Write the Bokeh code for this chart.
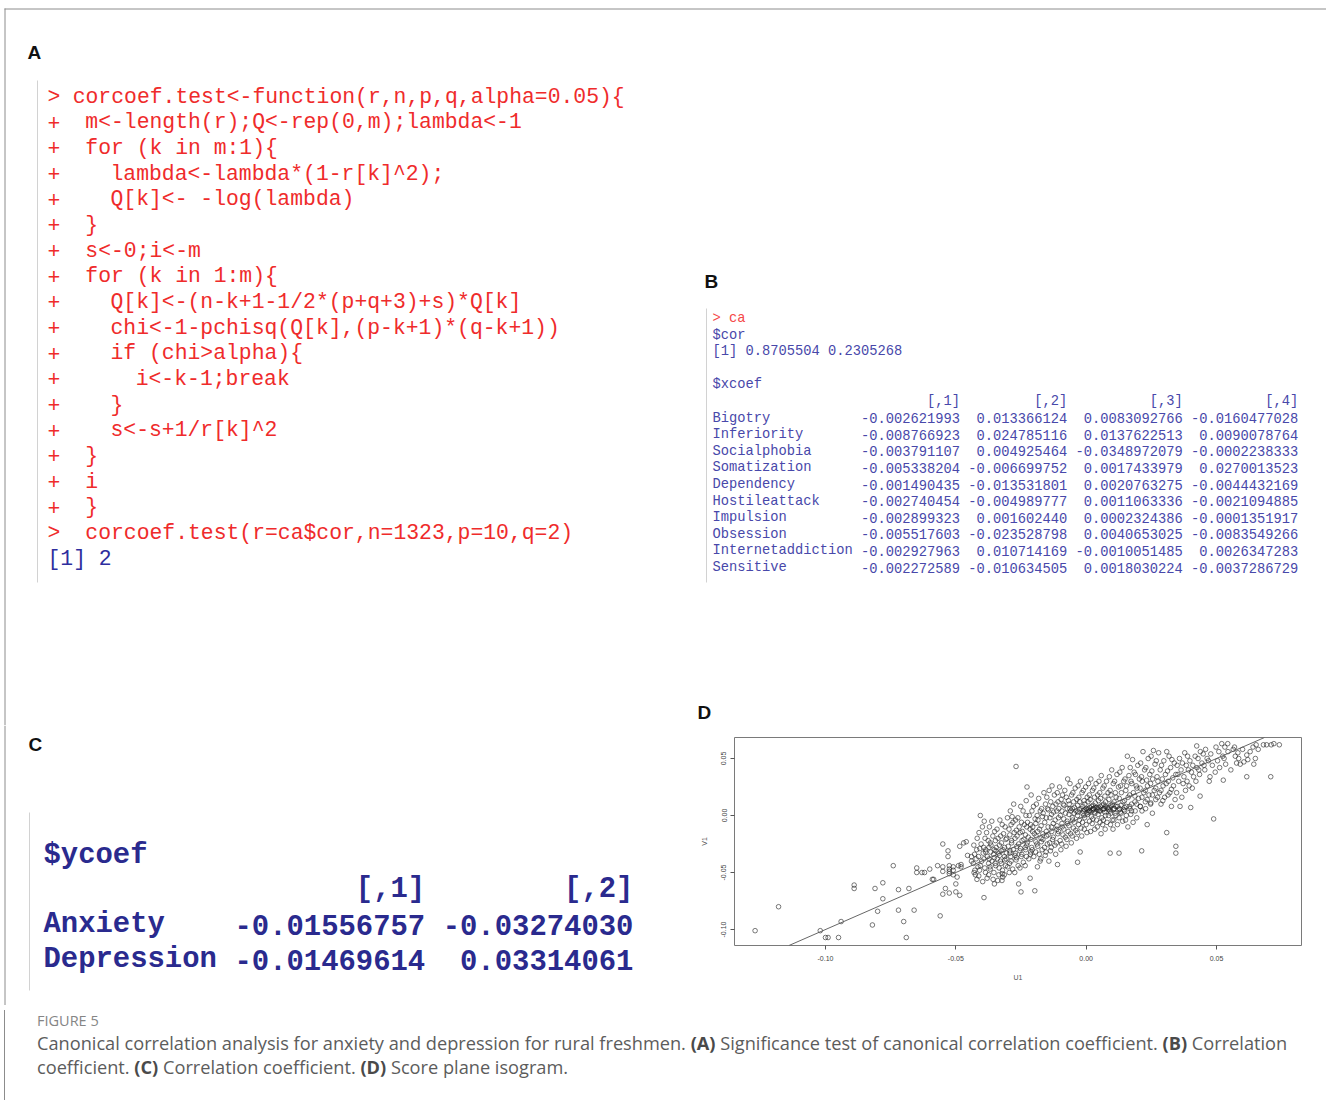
from bokeh.plotting import figure
from bokeh.layouts import column, row
from bokeh.models import Range1d, ColumnDataSource, Slope, FixedTicker, Div, NumeralTickFormatter
from bokeh.core.properties import value
from bokeh.embed import file_html
from bokeh.resources import INLINE

# ---------------- data ----------------
code_a = [
    "> corcoef.test<-function(r,n,p,q,alpha=0.05){",
    "+  m<-length(r);Q<-rep(0,m);lambda<-1",
    "+  for (k in m:1){",
    "+    lambda<-lambda*(1-r[k]^2);",
    "+    Q[k]<- -log(lambda)",
    "+  }",
    "+  s<-0;i<-m",
    "+  for (k in 1:m){",
    "+    Q[k]<-(n-k+1-1/2*(p+q+3)+s)*Q[k]",
    "+    chi<-1-pchisq(Q[k],(p-k+1)*(q-k+1))",
    "+    if (chi>alpha){",
    "+      i<-k-1;break",
    "+    }",
    "+    s<-s+1/r[k]^2",
    "+  }",
    "+  i",
    "+  }",
    ">  corcoef.test(r=ca$cor,n=1323,p=10,q=2)",
    "[1] 2",
]

cor_values = [0.8705504, 0.2305268]
x_names = ["Bigotry", "Inferiority", "Socialphobia", "Somatization", "Dependency",
           "Hostileattack", "Impulsion", "Obsession", "Internetaddiction", "Sensitive"]
xcoef1 = [-0.002621993, -0.008766923, -0.003791107, -0.005338204, -0.001490435,
          -0.002740454, -0.002899323, -0.005517603, -0.002927963, -0.002272589]
xcoef2 = [0.013366124, 0.024785116, 0.004925464, -0.006699752, -0.013531801,
          -0.004989777, 0.001602440, -0.023528798, 0.010714169, -0.010634505]
xcoef3 = [0.0083092766, 0.0137622513, -0.0348972079, 0.0017433979, 0.0020763275,
          0.0011063336, 0.0002324386, 0.0040653025, -0.0010051485, 0.0018030224]
xcoef4 = [-0.0160477028, 0.0090078764, -0.0002238333, 0.0270013523, -0.0044432169,
          -0.0021094885, -0.0001351917, -0.0083549266, 0.0026347283, -0.0037286729]

y_names = ["Anxiety", "Depression"]
ycoef1 = [-0.01556757, -0.01469614]
ycoef2 = [-0.03274030, 0.03314061]

# canonical scores (U1, V1)
u1 = [
    -0.127, -0.118, -0.102, -0.100, -0.099, -0.095, -0.094, -0.089, -0.089, -0.082,
    -0.081, -0.080, -0.078, -0.078, -0.074, -0.072, -0.072, -0.070, -0.069, -0.068,
    -0.066, -0.065, -0.065, -0.063, -0.062, -0.060, -0.059, -0.0585, -0.057, -0.056,
    -0.055, -0.055, -0.055, -0.055, -0.054, -0.053, -0.053, -0.0525, -0.0525, -0.0525,
    -0.0525, -0.0525, -0.051, -0.051, -0.051, -0.050, -0.050, -0.0495, -0.049, -0.0485,
    -0.0485, -0.048, -0.048, -0.047, -0.046, -0.0455, -0.044, -0.044, -0.043, -0.042,
    -0.0418, -0.0422, -0.0415, -0.0425, -0.0419,
    -0.0406, -0.0398, -0.0403, -0.0395, -0.0401, -0.0409, -0.0397, -0.0392,
    -0.0382, -0.0376, -0.0385, -0.0379, -0.0374, -0.0386, -0.0380,
    -0.0362, -0.0358, -0.0365, -0.0355, -0.0361, -0.0368, -0.0357, -0.0352,
    -0.0342, -0.0338, -0.0345, -0.0336, -0.0341, -0.0347, -0.0335, -0.0339,
    -0.0322, -0.0317, -0.0325, -0.0319, -0.0313, -0.0326, -0.0321, -0.0322, -0.0320, -0.0323,
    -0.0302, -0.0296, -0.0305, -0.0299, -0.0293, -0.0307, -0.0301, -0.0295,
    -0.0278, -0.0284, -0.0281, -0.0276, -0.0286, -0.0279, -0.0273, -0.0288, -0.0282,
    -0.0269, -0.0262, -0.0257, -0.0265, -0.0259, -0.0254, -0.0267, -0.0261, -0.0259, -0.0250,
    -0.0242, -0.0237, -0.0245, -0.0239, -0.0234, -0.0247, -0.0241,
    -0.0227, -0.0230, -0.0218, -0.0225, -0.0215, -0.0222, -0.0228, -0.0213, -0.0220, -0.0215,
    -0.0202, -0.0196, -0.0205, -0.0199, -0.0193, -0.0207, -0.0201, -0.0197,
    -0.0182, -0.0176, -0.0185, -0.0179, -0.0173, -0.0186, -0.0180, -0.0177,
    -0.0162, -0.0156, -0.0165, -0.0159, -0.0153, -0.0166, -0.0160, -0.0157,
    -0.0142, -0.0136, -0.0145, -0.0139, -0.0133, -0.0146, -0.0140, -0.0137, -0.0143,
    -0.0122, -0.0116, -0.0125, -0.0119, -0.0113, -0.0126, -0.0120, -0.0117, -0.0110,
    -0.0102, -0.0096, -0.0105, -0.0099, -0.0093, -0.0106, -0.0100, -0.0097,
    -0.0082, -0.0076, -0.0085, -0.0079, -0.0073, -0.0086, -0.0080, -0.0077,
    -0.0062, -0.0056, -0.0065, -0.0059, -0.0053, -0.0066, -0.0060, -0.0057, -0.0063,
    -0.0042, -0.0036, -0.0045, -0.0039, -0.0033, -0.0046, -0.0040, -0.0037, -0.0033,
    -0.0022, -0.0016, -0.0025, -0.0019, -0.0013, -0.0026, -0.0020, -0.0017, -0.0023,
    -0.0002, 0.0004, -0.0005, 0.0001, 0.0007, -0.0006, 0.0000, 0.0003, 0.0005,
    0.0018, 0.0024, 0.0015, 0.0021, 0.0027, 0.0014, 0.0020, 0.0023, 0.0017, 0.0025,
    0.0038, 0.0044, 0.0035, 0.0041, 0.0047, 0.0034, 0.0040, 0.0043, 0.0045,
    0.0058, 0.0064, 0.0055, 0.0061, 0.0067, 0.0054, 0.0060, 0.0063, 0.0057, 0.0065,
    0.0078, 0.0084, 0.0075, 0.0081, 0.0087, 0.0074, 0.0080, 0.0085,
    0.0098, 0.0104, 0.0095, 0.0101, 0.0107, 0.0094, 0.0100, 0.0103, 0.0092, 0.0105,
    0.0118, 0.0124, 0.0115, 0.0121, 0.0127, 0.0114, 0.0120, 0.0126,
    0.0138, 0.0144, 0.0135, 0.0141, 0.0147, 0.0134, 0.0140, 0.0145,
    0.0158, 0.0164, 0.0155, 0.0161, 0.0167, 0.0154, 0.0160,
    0.0178, 0.0184, 0.0175, 0.0181, 0.0187, 0.0174, 0.0180,
    0.0198, 0.0204, 0.0195, 0.0201, 0.0207, 0.0194, 0.0213,
    0.0218, 0.0224, 0.0215, 0.0221, 0.0227, 0.0214,
    0.0238, 0.0244, 0.0235, 0.0241, 0.0247, 0.0234,
    0.0258, 0.0264, 0.0255, 0.0261, 0.0267, 0.0254,
    0.0278, 0.0284, 0.0275, 0.0281, 0.0287,
    0.0298, 0.0304, 0.0295, 0.0301, 0.0309,
    0.0318, 0.0324, 0.0315, 0.0321, 0.0327,
    0.0338, 0.0344, 0.0335, 0.0341, 0.0344, 0.0344,
    0.0358, 0.0364, 0.0355, 0.0360,
    0.0378, 0.0384, 0.0375, 0.0381,
    0.0398, 0.0404, 0.0395, 0.0401,
    0.0424, 0.0418, 0.0425, 0.0421,
    0.0438, 0.0444, 0.0435, 0.0437,
    0.0458, 0.0464, 0.0455,
    0.0478, 0.0484, 0.0475, 0.0489,
    0.0498, 0.0504, 0.0495,
    0.0520, 0.0524, 0.0526,
    0.0543, 0.0544, 0.0535,
    0.0564, 0.0577, 0.0555,
    0.0582, 0.0585, 0.0600, 0.0605, 0.0616, 0.0620, 0.0616, 0.0643,
    0.0640, 0.0660, 0.0680, 0.0692, 0.0710, 0.0708, 0.0720, 0.0741,
    # second pass through the dense band
    -0.0431, -0.0428, -0.0433, -0.0427,
    -0.0411, -0.0408, -0.0413, -0.0406, -0.0412,
    -0.0391, -0.0388, -0.0393, -0.0386, -0.0392, -0.0389,
    -0.0371, -0.0368, -0.0373, -0.0366, -0.0372, -0.0369, -0.0374,
    -0.0351, -0.0348, -0.0353, -0.0346, -0.0352, -0.0349, -0.0354,
    -0.0331, -0.0328, -0.0333, -0.0326, -0.0332, -0.0329, -0.0334,
    -0.0311, -0.0308, -0.0313, -0.0306, -0.0312, -0.0309, -0.0314,
    -0.0291, -0.0288, -0.0293, -0.0286, -0.0292, -0.0289, -0.0294,
    -0.0271, -0.0268, -0.0273, -0.0266, -0.0272, -0.0269, -0.0274,
    -0.0251, -0.0248, -0.0253, -0.0246, -0.0252, -0.0249, -0.0254,
    -0.0231, -0.0228, -0.0233, -0.0226, -0.0232, -0.0229, -0.0234,
    -0.0211, -0.0208, -0.0213, -0.0206, -0.0212, -0.0209, -0.0214,
    -0.0191, -0.0188, -0.0193, -0.0186, -0.0192, -0.0189, -0.0194, -0.0187,
    -0.0171, -0.0168, -0.0173, -0.0166, -0.0172, -0.0169, -0.0174,
    -0.0151, -0.0148, -0.0153, -0.0146, -0.0152, -0.0149, -0.0154,
    -0.0131, -0.0128, -0.0133, -0.0126, -0.0132, -0.0129, -0.0134,
    -0.0111, -0.0108, -0.0113, -0.0106, -0.0112, -0.0109, -0.0114,
    -0.0091, -0.0088, -0.0093, -0.0086, -0.0092, -0.0089, -0.0094,
    -0.0071, -0.0068, -0.0073, -0.0066, -0.0072, -0.0069, -0.0074,
    -0.0051, -0.0048, -0.0053, -0.0046, -0.0052, -0.0049, -0.0054,
    -0.0031, -0.0028, -0.0033, -0.0026, -0.0032, -0.0029, -0.0034,
    -0.0011, -0.0008, -0.0013, -0.0006, -0.0012, -0.0009, -0.0014, -0.0007,
    0.0009, 0.0012, 0.0007, 0.0014, 0.0008, 0.0011, 0.0006, 0.0013,
    0.0029, 0.0032, 0.0027, 0.0034, 0.0028, 0.0031, 0.0026, 0.0033,
    0.0049, 0.0052, 0.0047, 0.0054, 0.0048, 0.0051, 0.0046, 0.0053,
    0.0069, 0.0072, 0.0067, 0.0074, 0.0068, 0.0071, 0.0066, 0.0073,
    0.0089, 0.0092, 0.0087, 0.0094, 0.0088, 0.0091, 0.0086, 0.0093,
    0.0109, 0.0112, 0.0107, 0.0114, 0.0108, 0.0111, 0.0106,
    0.0129, 0.0132, 0.0127, 0.0134, 0.0128, 0.0131, 0.0126,
    0.0149, 0.0152, 0.0147, 0.0154, 0.0148, 0.0151,
    0.0169, 0.0172, 0.0167, 0.0174, 0.0168, 0.0171,
    0.0189, 0.0192, 0.0187, 0.0194, 0.0188,
    0.0209, 0.0212, 0.0207, 0.0214, 0.0208,
    0.0229, 0.0232, 0.0227, 0.0234, 0.0228,
    0.0249, 0.0252, 0.0247, 0.0254, 0.0248,
    0.0269, 0.0272, 0.0267, 0.0274,
    0.0289, 0.0292, 0.0287, 0.0294,
    0.0309, 0.0312, 0.0307, 0.0314,
    0.0329, 0.0332, 0.0327,
    0.0349, 0.0352, 0.0347,
    0.0369, 0.0372, 0.0367,
    0.0389, 0.0392, 0.0387,
    0.0409, 0.0412, 0.0407,
    0.0429, 0.0432,
    0.0449, 0.0452,
    0.0469, 0.0472,
    0.0509, 0.0512,
    0.0529, 0.0532,
    0.0569, 0.0572,
    0.0591,
    0.0629,
    0.0649, 0.0652,
]
v1 = [
    -0.101, -0.080, -0.101, -0.107, -0.107, -0.107, -0.093, -0.061, -0.064, -0.096,
    -0.064, -0.084, -0.059, -0.073, -0.044, -0.065, -0.083, -0.093, -0.107, -0.064,
    -0.083, -0.046, -0.050, -0.050, -0.050, -0.047, -0.056, -0.056, -0.044, -0.088,
    -0.025, -0.045, -0.049, -0.069, -0.064, -0.031, -0.036, -0.044, -0.047, -0.049,
    -0.051, -0.068, -0.045, -0.048, -0.052, -0.060, -0.067, -0.054, -0.044, -0.027,
    -0.070, -0.043, -0.045, -0.024, -0.023, -0.035, -0.036, -0.040, -0.050, -0.030,
    -0.020, -0.038, -0.045, -0.052, -0.056,
    0.000, -0.010, -0.025, -0.033, -0.040, -0.048, -0.058, -0.072,
    -0.015, -0.022, -0.030, -0.036, -0.042, -0.050, -0.055,
    -0.005, -0.018, -0.026, -0.034, -0.040, -0.047, -0.056, -0.060,
    -0.012, -0.020, -0.028, -0.033, -0.038, -0.044, -0.052, -0.057,
    -0.008, -0.016, -0.024, -0.030, -0.036, -0.042, -0.048, -0.051, -0.054, -0.057,
    -0.002, -0.012, -0.020, -0.027, -0.033, -0.038, -0.045, -0.050,
    0.010, -0.001, -0.006, -0.015, -0.022, -0.030, -0.035, -0.040, -0.047,
    0.043, -0.002, -0.010, -0.018, -0.025, -0.031, -0.037, -0.044, -0.060, -0.067,
    0.004, -0.008, -0.014, -0.021, -0.028, -0.034, -0.041,
    0.025, 0.013, 0.000, -0.006, -0.012, -0.019, -0.026, -0.032, -0.038, -0.055,
    0.008, -0.003, -0.010, -0.016, -0.023, -0.030, -0.036, -0.066,
    0.015, 0.004, -0.004, -0.012, -0.020, -0.027, -0.034, -0.040,
    0.020, 0.010, 0.002, -0.006, -0.014, -0.021, -0.028, -0.035,
    0.022, 0.012, 0.005, -0.002, -0.010, -0.017, -0.024, -0.031, -0.040,
    0.018, 0.010, 0.003, -0.004, -0.012, -0.019, -0.026, -0.034, -0.043,
    0.025, 0.014, 0.006, 0.000, -0.007, -0.014, -0.022, -0.030,
    0.022, 0.016, 0.009, 0.002, -0.005, -0.012, -0.019, -0.027,
    0.028, 0.018, 0.010, 0.004, -0.002, -0.009, -0.016, -0.024, 0.006,
    0.024, 0.014, 0.007, 0.004, 0.000, -0.006, -0.013, -0.020, -0.041,
    0.030, 0.020, 0.012, 0.006, 0.002, -0.004, -0.011, -0.018, -0.032,
    0.025, 0.016, 0.010, 0.006, 0.003, -0.002, -0.008, -0.015, 0.005,
    0.032, 0.022, 0.014, 0.008, 0.006, 0.004, -0.001, -0.007, -0.014, 0.005,
    0.028, 0.018, 0.011, 0.007, 0.005, 0.002, -0.004, -0.010, 0.006,
    0.035, 0.024, 0.015, 0.009, 0.006, 0.004, -0.002, -0.008, -0.016, 0.005,
    0.030, 0.020, 0.012, 0.007, 0.005, 0.000, -0.006, 0.006,
    0.040, 0.028, 0.018, 0.010, 0.006, 0.002, -0.004, -0.012, -0.033, 0.005,
    0.036, 0.025, 0.016, 0.008, 0.005, 0.000, -0.008, -0.033,
    0.042, 0.030, 0.020, 0.012, 0.007, 0.002, -0.005, 0.005,
    0.052, 0.035, 0.026, 0.016, 0.008, 0.000, -0.010,
    0.049, 0.038, 0.028, 0.020, 0.012, 0.004, -0.006,
    0.044, 0.032, 0.024, 0.015, 0.008, -0.002, -0.031,
    0.056, 0.040, 0.030, 0.020, 0.012, 0.004,
    0.050, 0.036, 0.026, 0.018, 0.010, -0.008,
    0.057, 0.045, 0.032, 0.022, 0.014, 0.002,
    0.055, 0.040, 0.030, 0.020, 0.010,
    0.048, 0.036, 0.026, 0.016, -0.015,
    0.052, 0.042, 0.030, 0.020, 0.008,
    0.046, 0.036, 0.026, 0.014, -0.027, -0.033,
    0.050, 0.040, 0.030, 0.008,
    0.055, 0.044, 0.034, 0.022,
    0.048, 0.038, 0.026, 0.007,
    0.061, 0.052, 0.042, 0.030,
    0.056, 0.046, 0.036, 0.017,
    0.058, 0.050, 0.040,
    0.054, 0.044, 0.034, -0.003,
    0.060, 0.048, 0.038,
    0.063, 0.052, 0.031,
    0.063, 0.056, 0.045,
    0.058, 0.046, 0.040,
    0.055, 0.050, 0.058, 0.047, 0.053, 0.049, 0.034, 0.045,
    0.060, 0.058, 0.062, 0.062, 0.062, 0.034, 0.063, 0.062,
    # second pass through the dense band
    -0.026, -0.034, -0.042, -0.048,
    -0.015, -0.029, -0.036, -0.044, -0.053,
    -0.005, -0.020, -0.028, -0.032, -0.038, -0.046,
    -0.010, -0.024, -0.028, -0.032, -0.038, -0.045, -0.052,
    -0.014, -0.022, -0.030, -0.031, -0.037, -0.042, -0.050,
    -0.004, -0.018, -0.026, -0.031, -0.035, -0.040, -0.046,
    -0.010, -0.021, -0.028, -0.033, -0.039, -0.044, -0.052,
    0.004, -0.008, -0.017, -0.024, -0.031, -0.036, -0.042,
    -0.004, -0.013, -0.020, -0.027, -0.033, -0.039, -0.050,
    0.008, -0.006, -0.015, -0.022, -0.029, -0.036, -0.046,
    0.000, -0.010, -0.017, -0.024, -0.030, -0.036, -0.044,
    0.018, 0.004, -0.008, -0.014, -0.021, -0.028, -0.034,
    0.010, 0.000, -0.007, -0.014, -0.018, -0.025, -0.032, -0.045,
    0.006, -0.001, -0.009, -0.016, -0.023, -0.030, -0.038,
    0.016, 0.006, -0.002, -0.010, -0.018, -0.025, -0.032,
    0.026, 0.008, 0.001, -0.007, -0.014, -0.021, -0.028,
    0.020, 0.012, 0.004, -0.002, -0.009, -0.016, -0.024,
    0.018, 0.010, 0.004, -0.003, -0.010, -0.017, -0.025,
    0.032, 0.013, 0.006, 0.001, -0.007, -0.014, -0.021,
    0.020, 0.012, 0.006, 0.002, -0.004, -0.011, -0.018,
    0.026, 0.016, 0.009, 0.005, 0.003, -0.008, -0.015,
    0.022, 0.013, 0.008, 0.005, 0.004, 0.000, -0.006, -0.012,
    0.028, 0.018, 0.012, 0.007, 0.006, 0.004, 0.001, -0.005,
    0.024, 0.016, 0.009, 0.007, 0.006, 0.003, -0.003, -0.012,
    0.030, 0.020, 0.013, 0.008, 0.007, 0.004, 0.001, -0.006,
    0.026, 0.017, 0.010, 0.008, 0.006, 0.003, -0.004, -0.012,
    0.034, 0.022, 0.014, 0.009, 0.007, 0.004, 0.000, -0.008,
    0.030, 0.020, 0.012, 0.008, 0.006, 0.002, -0.004,
    0.038, 0.026, 0.015, 0.009, 0.006, 0.003, -0.002,
    0.032, 0.022, 0.013, 0.008, 0.004, -0.004,
    0.042, 0.030, 0.018, 0.010, 0.006, 0.001,
    0.036, 0.026, 0.017, 0.010, 0.004,
    0.046, 0.034, 0.024, 0.016, 0.008,
    0.042, 0.031, 0.022, 0.014, 0.006,
    0.052, 0.039, 0.028, 0.018, 0.011,
    0.048, 0.034, 0.024, 0.016,
    0.044, 0.032, 0.022, 0.013,
    0.056, 0.039, 0.028, 0.018,
    0.049, 0.033, 0.023,
    0.044, 0.036, 0.020,
    0.046, 0.028, 0.016,
    0.052, 0.040, 0.030,
    0.044, 0.034, 0.024,
    0.050, 0.040,
    0.054, 0.044,
    0.048, 0.030,
    0.056, 0.042,
    0.050, 0.060,
    0.060, 0.052,
    0.045,
    0.056,
    0.050, 0.062,
]
assert len(u1) == len(v1)

x_ticks = [-0.10, -0.05, 0.00, 0.05]
y_ticks = [-0.10, -0.05, 0.00, 0.05]

# ---------------- styling ----------------
MONO = "Liberation Mono"
SANS = "Liberation Sans"
RED = "#ef2b2b"
BLUE = "#2e2e9e"
B_BLUE = "#4848aa"
B_RED = "#f54848"
C_BLUE = "#2a2a8e"
EDGE = "#8c8c8c"


def text_fig(w, h, x0, y0):
    p = figure(width=w, height=h, x_range=Range1d(x0, x0 + w), y_range=Range1d(y0 + h, y0),
               output_backend="svg", toolbar_location=None, min_border=0,
               x_axis_location=None, y_axis_location=None)
    p.grid.visible = False
    p.outline_line_color = None
    p.background_fill_color = "white"
    p.frame_align = False
    return p


def add_text(p, xs, ys, ts, color, font, size, align="left", style="normal"):
    src = ColumnDataSource(dict(x=xs, y=ys, t=ts, c=color if isinstance(color, list) else [color] * len(xs)))
    p.text(x="x", y="y", text="t", text_color="c", source=src,
           text_font=value(font), text_font_size=value(size), text_font_style=style,
           text_align=align, text_baseline="middle")


W = 1326
# ---------------- top figure (A, B, D label) ----------------
top = text_fig(W, 725, 0, 0)
top.segment(x0=[4, 4.5], y0=[8.5, 8], x1=[W, 4.5], y1=[8.5, 725], line_color=EDGE, line_width=1)
top.segment(x0=[37, 706], y0=[80, 308], x1=[37, 706], y1=[582, 582], line_color="#d2d2d2", line_width=1)

add_text(top, [27, 704, 697], [52, 281, 712], ["A", "B", "D"], "#111111", SANS, "19px", style="bold")

# panel A
cw_a, x_a, y_a0, dy_a = 12.6, 47, 96, 25.67
xs, ys, ts, cs = [], [], [], []
for i, line in enumerate(code_a):
    y = y_a0 + i * dy_a
    if line[0] in ">+":
        rest = line[1:]
        idx = 1 + len(rest) - len(rest.lstrip())
        xs += [x_a, x_a + idx * cw_a]
        ys += [y, y]
        ts += [line[0], rest.strip()]
        cs += [RED, RED]
    else:
        xs.append(x_a); ys.append(y); ts.append(line); cs.append(BLUE)
add_text(top, xs, ys, ts, cs, MONO, "21.4px")

# panel B
cw_b, x_b, y_b0, dy_b = 8.25, 712, 318, 16.6
col_end = [x_b + cw_b * k for k in (30, 43, 57, 71)]
add_text(top, [x_b], [y_b0], ["> ca"], B_RED, MONO, "13.75px")
add_text(top, [x_b, x_b, x_b],
         [y_b0 + dy_b, y_b0 + 2 * dy_b, y_b0 + 4 * dy_b],
         ["$cor", "[1] " + " ".join(f"{c:.7f}" for c in cor_values), "$xcoef"],
         B_BLUE, MONO, "13.75px")
hx, hy, ht = [], [], []
for j in range(4):
    hx.append(col_end[j]); hy.append(y_b0 + 5 * dy_b); ht.append(f"[,{j + 1}]")
for i, name in enumerate(x_names):
    y = y_b0 + (6 + i) * dy_b
    vals = [f"{xcoef1[i]:.9f}", f"{xcoef2[i]:.9f}", f"{xcoef3[i]:.10f}", f"{xcoef4[i]:.10f}"]
    for j in range(4):
        hx.append(col_end[j]); hy.append(y); ht.append(vals[j])
add_text(top, hx, hy, ht, B_BLUE, MONO, "13.75px", align="right")
add_text(top, [x_b] * len(x_names), [y_b0 + (6 + i) * dy_b for i in range(len(x_names))],
         x_names, B_BLUE, MONO, "13.75px")

# ---------------- panel C ----------------
cfig = text_fig(690, 280, 0, 725)
cfig.segment(x0=[4.5, 29], y0=[725, 812], x1=[4.5, 29], y1=[1005, 990],
             line_color=[EDGE, "#d2d2d2"], line_width=1)
add_text(cfig, [28], [744], ["C"], "#111111", SANS, "19px", style="bold")
cw_c, x_c = 17.35, 43
c_rows_y = [855, 889, 924, 959]
c_end = [x_c + cw_c * 22, x_c + cw_c * 34]
add_text(cfig, [x_c], [c_rows_y[0]], ["$ycoef"], C_BLUE, MONO, "28.9px", style="bold")
add_text(cfig, [x_c, x_c], c_rows_y[2:], y_names, C_BLUE, MONO, "28.9px", style="bold")
cx, cy, ct = [c_end[0], c_end[1]], [c_rows_y[1], c_rows_y[1]], ["[,1]", "[,2]"]
for i in range(len(y_names)):
    cx += c_end
    cy += [c_rows_y[2 + i]] * 2
    ct += [f"{ycoef1[i]:.8f}", f"{ycoef2[i]:.8f}"]
add_text(cfig, cx, cy, ct, C_BLUE, MONO, "28.9px", align="right", style="bold")

# ---------------- panel D ----------------
d = figure(width=W - 690, height=280, x_range=Range1d(-0.1349, 0.0826), y_range=Range1d(-0.114, 0.0684),
           output_backend="svg", toolbar_location=None,
           min_border_left=44, min_border_right=25, min_border_top=12, min_border_bottom=60)
d.frame_align = False
d.grid.visible = False
d.outline_line_color = "#7a7a7a"
d.outline_line_width = 1
d.scatter(u1, v1, marker="circle", size=4.6, fill_color=None, line_color="#1e1e1e", line_width=0.7, line_alpha=0.85)
d.add_layout(Slope(gradient=1.0, y_intercept=0.0, line_color="#555555", line_width=0.9))
for ax, ticks in ((d.xaxis[0], x_ticks), (d.yaxis[0], y_ticks)):
    ax.ticker = FixedTicker(ticks=ticks)
    ax.formatter = NumeralTickFormatter(format="0.00")
    ax.axis_line_color = None
    ax.major_tick_line_color = "#555555"
    ax.major_tick_out = 4
    ax.major_tick_in = 0
    ax.minor_tick_line_color = None
    ax.major_label_text_font = SANS
    ax.major_label_text_font_size = "7px"
    ax.major_label_text_color = "#444444"
    ax.axis_label_text_font = SANS
    ax.axis_label_text_font_size = "7px"
    ax.axis_label_text_font_style = "normal"
    ax.axis_label_text_color = "#555555"
d.xaxis.axis_label = "U1"
d.xaxis.major_label_standoff = 6
d.xaxis.axis_label_standoff = 10
d.yaxis.axis_label = "V1"
d.yaxis.major_label_orientation = "vertical"
d.yaxis.major_label_standoff = 4
d.yaxis.axis_label_standoff = 11

# ---------------- caption ----------------
B_STYLE = 'style="color:#4a4a4a;font-weight:700"'
cap_html = (
    '<div style="font-family:\'Open Sans\', sans-serif; color:#5c5c5c; margin-left:-1px; '
    'border-left:1px solid #8c8c8c; padding-left:32px; height:90px; box-sizing:border-box;">'
    '<div style="font-size:14.5px; line-height:20px; padding-top:1px; color:#858585;">FIGURE 5</div>'
    '<div style="font-size:18.2px; line-height:24px; white-space:nowrap;">'
    'Canonical correlation analysis for anxiety and depression for rural freshmen. '
    f'<b {B_STYLE}>(A)</b> Significance test of canonical correlation coefficient. '
    f'<b {B_STYLE}>(B)</b> Correlation<br>'
    f'coefficient. <b {B_STYLE}>(C)</b> Correlation coefficient. '
    f'<b {B_STYLE}>(D)</b> Score plane isogram.</div></div>'
)
cap = Div(text=cap_html, width=W, height=90)

layout = column(top, row(cfig, d), cap)
open("out.html", "w").write(file_html(layout, INLINE))
